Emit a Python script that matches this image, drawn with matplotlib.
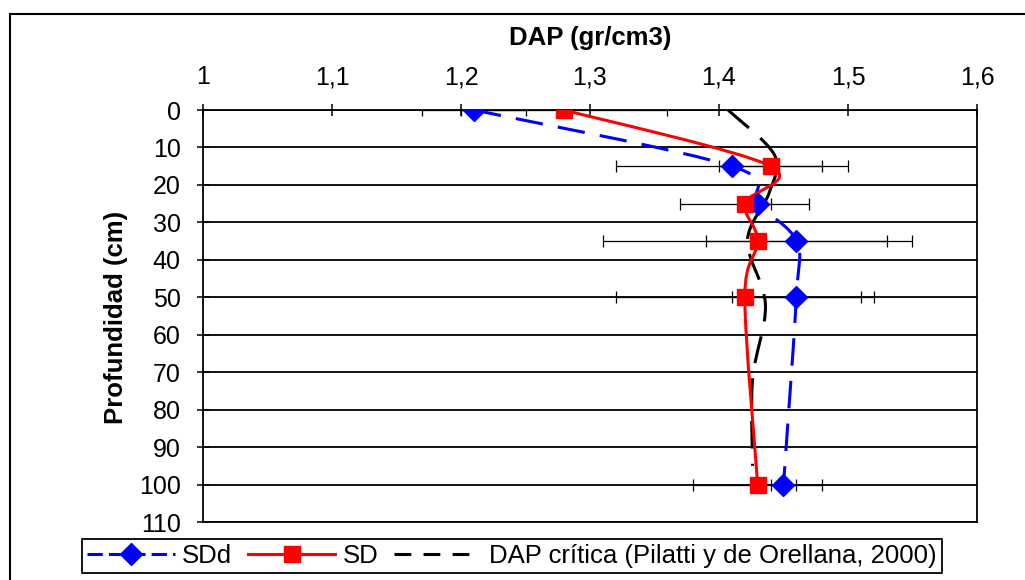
import matplotlib

matplotlib.use("Agg")
import matplotlib.pyplot as plt
import numpy as np
from matplotlib.lines import Line2D
from matplotlib.patches import PathPatch, Rectangle
from matplotlib.path import Path

plt.rcParams["font.family"] = ["Liberation Sans", "DejaVu Sans"]

# values
depth = [0, 15, 25, 35, 50, 100]
sdd = [1.21, 1.41, 1.43, 1.46, 1.46, 1.45]
sdd_err = [0.04, 0.09, 0.01, 0.07, 0.05, 0.01]
sd = [1.28, 1.44, 1.42, 1.43, 1.42, 1.43]
sd_err = [0.08, 0.04, 0.05, 0.12, 0.10, 0.05]
crit_depth = [0, 12, 22, 35, 52, 72, 95]
crit = [1.407, 1.443, 1.439, 1.422, 1.436, 1.426, 1.426]

x_ticks = [1.0, 1.1, 1.2, 1.3, 1.4, 1.5, 1.6]
x_labels = ["1", "1,1", "1,2", "1,3", "1,4", "1,5", "1,6"]
y_ticks = [0, 10, 20, 30, 40, 50, 60, 70, 80, 90, 100, 110]

series_labels = ["SDd", "SD", "DAP crítica (Pilatti y de Orellana, 2000)"]


def smooth_path(xs, ys):
    """Excel-style smoothed line: Catmull-Rom segments as cubic Beziers."""
    pts = np.column_stack([xs, ys]).astype(float)
    verts = [pts[0]]
    codes = [Path.MOVETO]
    n = len(pts)
    for i in range(n - 1):
        p0 = pts[max(i - 1, 0)]
        p1, p2 = pts[i], pts[i + 1]
        p3 = pts[min(i + 2, n - 1)]
        verts += [p1 + (p2 - p0) / 6, p2 - (p3 - p1) / 6, p2]
        codes += [Path.CURVE4] * 3
    return Path(verts, codes)


fig = plt.figure(figsize=(10.25, 5.8), dpi=100)
ax = fig.add_axes([203 / 1025, 1 - 522 / 580, (977 - 203) / 1025, (522 - 110) / 580])

# error bars (behind the lines)
ax.errorbar(sdd, depth, xerr=sdd_err, fmt="none", ecolor="black", elinewidth=0.9,
            capsize=4.5, capthick=0.9, zorder=2)
ax.errorbar(sd, depth, xerr=sd_err, fmt="none", ecolor="black", elinewidth=0.9,
            capsize=4.5, capthick=0.9, zorder=2)

lw = 2.2
ax.add_patch(PathPatch(smooth_path(crit, crit_depth), fill=False, edgecolor="black",
                       lw=lw, linestyle=(0, (9, 5)), zorder=3))
ax.add_patch(PathPatch(smooth_path(sdd, depth), fill=False, edgecolor="#0000ff",
                       lw=lw, linestyle=(0, (9, 5)), zorder=3))
ax.add_patch(PathPatch(smooth_path(sd, depth), fill=False, edgecolor="#ff0000",
                       lw=lw, zorder=3))

ax.plot(sdd, depth, linestyle="none", marker="D", ms=11.5, color="#0000ff", zorder=4)
ax.plot(sd, depth, linestyle="none", marker="s", ms=11.5, color="#ff0000", zorder=4)

ax.set_xlim(1.0, 1.6)
ax.set_ylim(110, 0)
ax.xaxis.tick_top()
ax.set_xticks(x_ticks, x_labels)
ax.set_yticks(y_ticks)
ax.tick_params(axis="both", direction="inout", length=8, width=1.1, labelsize=18,
               colors="black")
ax.tick_params(axis="x", pad=11)
ax.tick_params(axis="y", pad=12)
ax.yaxis.grid(True, color="black", lw=1.3)
for sp in ax.spines.values():
    sp.set_color("black")
    sp.set_linewidth(1.3)

fig.text(590 / 1025, 1 - 38 / 580, "DAP (gr/cm3)", fontsize=18.5, fontweight="bold",
         ha="center", va="center")
fig.text(116 / 1025, 1 - 317 / 580, "Profundidad (cm)", fontsize=18.5,
         fontweight="bold", rotation=90, ha="center", va="center")

handles = [
    Line2D([], [], color="#0000ff", lw=lw, linestyle=(0, (5, 2)), marker="D", ms=11.5),
    Line2D([], [], color="#ff0000", lw=lw, marker="s", ms=11.5),
    Line2D([], [], color="black", lw=lw, linestyle=(0, (5.5, 4))),
]
leg = fig.legend(handles, series_labels, loc="center",
                 bbox_to_anchor=(512 / 1025, 1 - 556 / 580), ncol=3, fontsize=18.5,
                 frameon=True, fancybox=False, edgecolor="black", framealpha=1,
                 handlelength=3.4, handletextpad=0.3, columnspacing=0.6,
                 borderpad=0.2, borderaxespad=0)
leg.get_frame().set_linewidth(1.3)

# outer chart-area frame
fig.add_artist(Rectangle((10 / 1025, -0.1), 1.1, (580 - 14) / 580 + 0.1,
                         transform=fig.transFigure, fill=False, edgecolor="black",
                         lw=1.5))

fig.savefig("out.png", dpi=100)
